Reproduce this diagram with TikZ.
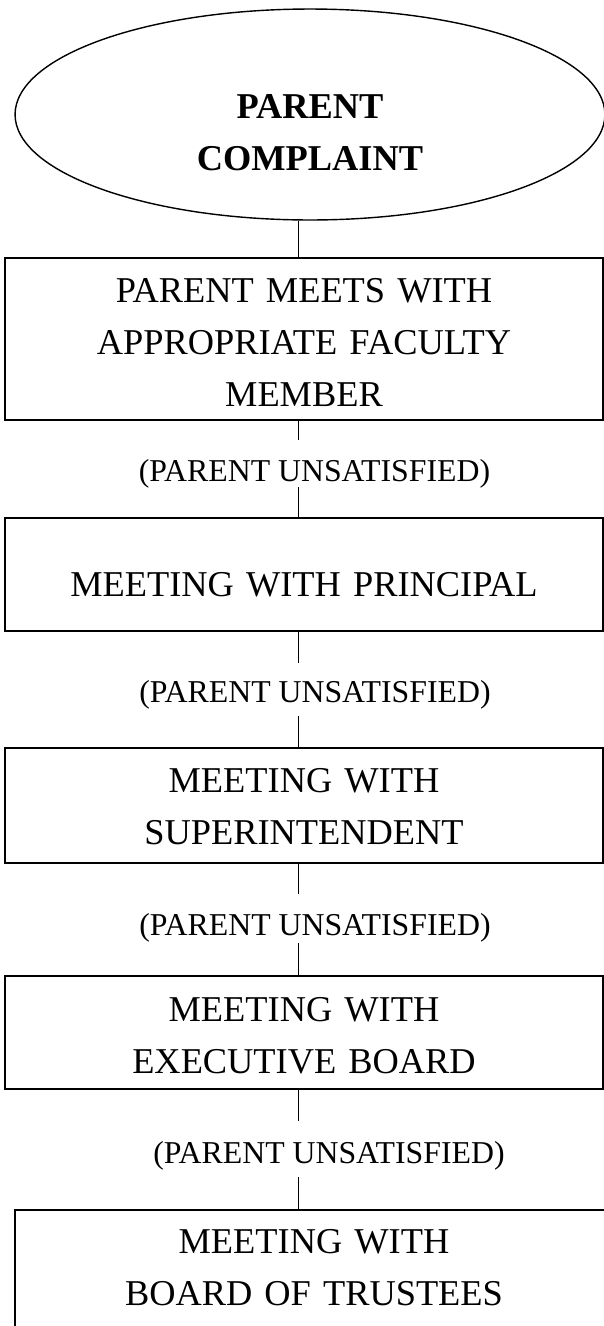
\documentclass[tikz,border=0pt]{standalone}
\usepackage{fontspec}
\setmainfont{Liberation Serif}
\usepackage{tikz}
\usetikzlibrary{positioning, shapes.geometric}
\tikzstyle{Link} = [
%plain connecting line:
line width = 0.8pt
]

\begin{document}
\begin{tikzpicture}[x = 0.02cm, y = -0.02cm,
				start/.style = {ellipse, draw, line width = 0.8pt, text centered, text width = 7cm, inner sep = 0pt, minimum width = 11.8cm, minimum height = 4.22cm, font = \fontsize{20.7pt}{29.8pt}\selectfont\bfseries},
				stage/.style = {rectangle, draw, line width = 0.8pt, text centered, text width = 10cm, inner sep = 0pt, minimum width = 11.96cm, font = \fontsize{20.7pt}{29.8pt}\selectfont},
				note/.style = {anchor = base, inner sep = 0pt, font = \fontsize{18.1pt}{21pt}\selectfont},
			]
			\useasboundingbox (0,0) rectangle (604,1326);
			\clip (0,0) rectangle (604,1326);
			\coordinate(spine) at (298.5,0);

			\node[start, text height = 1.36cm, text depth = 1.2cm](pc) at (310,114.5){PARENT\\COMPLAINT};
			\node[stage, text height = 0.88cm, text depth = 2.36cm](b1) at (304,339){PARENT MEETS WITH\\APPROPRIATE FACULTY\\MEMBER};
			\node[note, text height = 0.82cm, text depth = 0.12cm](u1) at (314.5,481){(PARENT UNSATISFIED)};
			\node[stage, text height = 1.56cm, text depth = 0.70cm](b2) at (304,574.5){MEETING WITH PRINCIPAL};
			\node[note, text height = 0.78cm, text depth = 0.28cm](u2) at (315,702){(PARENT UNSATISFIED)};
			\node[stage, text height = 0.89cm, text depth = 1.41cm](b3) at (304,805.5){MEETING WITH\\SUPERINTENDENT};
			\node[note, text height = 0.82cm, text depth = 0.16cm](u3) at (315,935){(PARENT UNSATISFIED)};
			\node[stage, text height = 0.91cm, text depth = 1.35cm](b4) at (304,1032.5){MEETING WITH\\EXECUTIVE BOARD};
			\node[note, text height = 0.84cm, text depth = 0.28cm](u4) at (329,1163){(PARENT UNSATISFIED)};
			\node[stage, text height = 0.87cm, text depth = 1.93cm](b5) at (314,1280){MEETING WITH\\BOARD OF TRUSTEES};

			\draw[Link](pc.south -| spine)--(b1.north -| spine);
			\draw[Link](b1.south -| spine)--(u1.north -| spine);
			\draw[Link](u1.south -| spine)--(b2.north -| spine);
			\draw[Link](b2.south -| spine)--(u2.north -| spine);
			\draw[Link](u2.south -| spine)--(b3.north -| spine);
			\draw[Link](b3.south -| spine)--(u3.north -| spine);
			\draw[Link](u3.south -| spine)--(b4.north -| spine);
			\draw[Link](b4.south -| spine)--(u4.north -| spine);
			\draw[Link](u4.south -| spine)--(b5.north -| spine);

		\end{tikzpicture}
\end{document}
